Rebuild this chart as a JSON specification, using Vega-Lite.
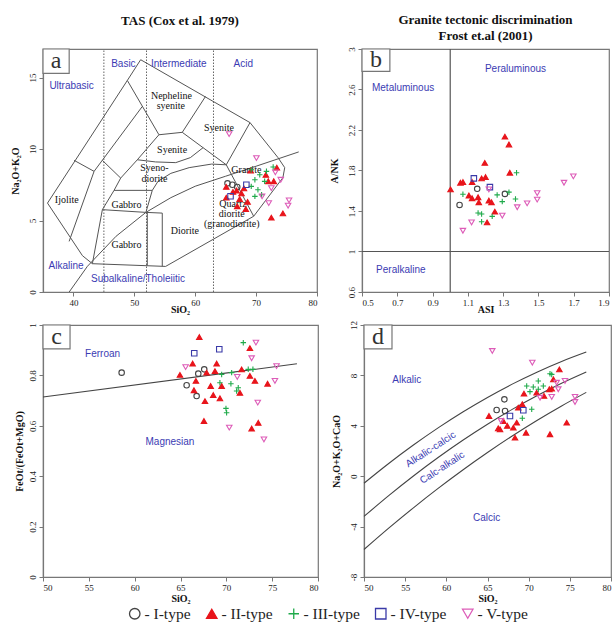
{
"$schema": "https://vega.github.io/schema/vega-lite/v6.json",
"padding": {"left": 9, "top": 13, "right": 0, "bottom": 2},
"config": {
 "view": {"stroke": "#777", "strokeWidth": 1.2},
 "font": "Liberation Serif",
 "axis": {"labelFont": "Liberation Serif", "labelFontSize": 9, "labelColor": "#222", "titleFont": "Liberation Serif", "titleFontSize": 10, "titleFontWeight": "bold", "titleColor": "#111", "domainColor": "#777", "domainWidth": 1.2, "tickColor": "#777", "tickSize": 4, "grid": false, "labelPadding": 2, "labelOverlap": false, "labelExpr": "'' + datum.value", "tickCount": 12},
 "axisX": {"titlePadding": -3},
 "axisY": {"labelAngle": -90, "titlePadding": 8},
 "title": {"font": "Liberation Serif", "fontSize": 13, "fontWeight": "bold", "color": "#111", "lineHeight": 16, "anchor": "middle", "offset": 0},
 "legend": {"orient": "none", "legendX": 84, "legendY": 557, "direction": "horizontal", "columns": 5, "gridAlign": "none", "labelFont": "Liberation Serif", "labelFontSize": 15.5, "labelColor": "#222", "symbolSize": 110, "symbolStrokeWidth": 1.3, "columnPadding": 12, "labelOffset": 2}
},
"datasets": {
 "pts": [
  {"p":"a","t":"I-type","x":65.3,"y":7.6},{"p":"a","t":"I-type","x":66.1,"y":7.5},{"p":"a","t":"I-type","x":66.9,"y":7.35},
  {"p":"a","t":"II-type","x":73.4,"y":8.7},{"p":"a","t":"II-type","x":69.1,"y":8.5},{"p":"a","t":"II-type","x":72.0,"y":7.75},{"p":"a","t":"II-type","x":72.9,"y":7.75},{"p":"a","t":"II-type","x":65.1,"y":7.35},{"p":"a","t":"II-type","x":68.0,"y":7.25},{"p":"a","t":"II-type","x":66.8,"y":7.1},{"p":"a","t":"II-type","x":67.6,"y":6.9},{"p":"a","t":"II-type","x":65.1,"y":6.6},{"p":"a","t":"II-type","x":67.3,"y":6.5},{"p":"a","t":"II-type","x":66.9,"y":6.0},{"p":"a","t":"II-type","x":68.3,"y":5.8},{"p":"a","t":"II-type","x":72.5,"y":5.2},{"p":"a","t":"II-type","x":74.4,"y":5.5},{"p":"a","t":"II-type","x":66.2,"y":7.0},{"p":"a","t":"II-type","x":68.6,"y":6.3},{"p":"a","t":"II-type","x":71.6,"y":8.2},
  {"p":"a","t":"III-type","x":69.2,"y":8.55},{"p":"a","t":"III-type","x":70.6,"y":8.2},{"p":"a","t":"III-type","x":71.7,"y":8.44},{"p":"a","t":"III-type","x":72.8,"y":8.74},{"p":"a","t":"III-type","x":69.8,"y":7.85},{"p":"a","t":"III-type","x":71.4,"y":7.74},{"p":"a","t":"III-type","x":69.2,"y":7.39},{"p":"a","t":"III-type","x":70.3,"y":7.15},{"p":"a","t":"III-type","x":69.8,"y":6.69},{"p":"a","t":"III-type","x":70.9,"y":6.8},
  {"p":"a","t":"IV-type","x":68.4,"y":7.5},{"p":"a","t":"IV-type","x":65.8,"y":6.7},
  {"p":"a","t":"V-type","x":70.05,"y":9.37},{"p":"a","t":"V-type","x":73.16,"y":8.37},{"p":"a","t":"V-type","x":74.05,"y":7.85},{"p":"a","t":"V-type","x":72.5,"y":7.27},{"p":"a","t":"V-type","x":70.98,"y":6.69},{"p":"a","t":"V-type","x":72.08,"y":6.22},{"p":"a","t":"V-type","x":75.41,"y":6.41},{"p":"a","t":"V-type","x":75.25,"y":6.04},{"p":"a","t":"V-type","x":65.57,"y":11.05},
  {"p":"b","t":"I-type","x":1.153,"y":1.619},{"p":"b","t":"I-type","x":1.053,"y":1.46},{"p":"b","t":"I-type","x":1.31,"y":1.569},
  {"p":"b","t":"II-type","x":1.31,"y":2.134},{"p":"b","t":"II-type","x":1.333,"y":2.057},{"p":"b","t":"II-type","x":1.196,"y":1.875},{"p":"b","t":"II-type","x":1.338,"y":1.778},{"p":"b","t":"II-type","x":1.178,"y":1.722},{"p":"b","t":"II-type","x":1.2,"y":1.735},{"p":"b","t":"II-type","x":1.124,"y":1.686},{"p":"b","t":"II-type","x":1.058,"y":1.679},{"p":"b","t":"II-type","x":1.072,"y":1.686},{"p":"b","t":"II-type","x":1.002,"y":1.613},{"p":"b","t":"II-type","x":1.106,"y":1.553},{"p":"b","t":"II-type","x":1.124,"y":1.526},{"p":"b","t":"II-type","x":1.158,"y":1.536},{"p":"b","t":"II-type","x":1.162,"y":1.486},{"p":"b","t":"II-type","x":1.219,"y":1.503},{"p":"b","t":"II-type","x":1.234,"y":1.486},{"p":"b","t":"II-type","x":1.253,"y":1.394},{"p":"b","t":"II-type","x":1.209,"y":1.287},
  {"p":"b","t":"III-type","x":1.376,"y":1.778},{"p":"b","t":"III-type","x":1.072,"y":1.566},{"p":"b","t":"III-type","x":1.266,"y":1.559},{"p":"b","t":"III-type","x":1.333,"y":1.586},{"p":"b","t":"III-type","x":1.37,"y":1.519},{"p":"b","t":"III-type","x":1.295,"y":1.493},{"p":"b","t":"III-type","x":1.158,"y":1.38},{"p":"b","t":"III-type","x":1.178,"y":1.37},{"p":"b","t":"III-type","x":1.178,"y":1.294},{"p":"b","t":"III-type","x":1.238,"y":1.347},
  {"p":"b","t":"IV-type","x":1.134,"y":1.722},{"p":"b","t":"IV-type","x":1.225,"y":1.636},
  {"p":"b","t":"V-type","x":1.219,"y":1.613},{"p":"b","t":"V-type","x":1.698,"y":1.742},{"p":"b","t":"V-type","x":1.645,"y":1.679},{"p":"b","t":"V-type","x":1.493,"y":1.576},{"p":"b","t":"V-type","x":1.493,"y":1.513},{"p":"b","t":"V-type","x":1.436,"y":1.476},{"p":"b","t":"V-type","x":1.38,"y":1.437},{"p":"b","t":"V-type","x":1.295,"y":1.354},{"p":"b","t":"V-type","x":1.121,"y":1.287},{"p":"b","t":"V-type","x":1.072,"y":1.205},
  {"p":"c","t":"I-type","x":58.58,"y":0.811},{"p":"c","t":"I-type","x":65.67,"y":0.761},{"p":"c","t":"I-type","x":66.76,"y":0.718},{"p":"c","t":"I-type","x":66.94,"y":0.807},{"p":"c","t":"I-type","x":67.59,"y":0.824},
  {"p":"c","t":"II-type","x":67.05,"y":0.952},{"p":"c","t":"II-type","x":72.57,"y":0.908},{"p":"c","t":"II-type","x":66.32,"y":0.847},{"p":"c","t":"II-type","x":68.94,"y":0.847},{"p":"c","t":"II-type","x":64.94,"y":0.802},{"p":"c","t":"II-type","x":67.85,"y":0.811},{"p":"c","t":"II-type","x":68.76,"y":0.817},{"p":"c","t":"II-type","x":71.67,"y":0.824},{"p":"c","t":"II-type","x":72.57,"y":0.798},{"p":"c","t":"II-type","x":66.68,"y":0.778},{"p":"c","t":"II-type","x":68.29,"y":0.758},{"p":"c","t":"II-type","x":69.49,"y":0.758},{"p":"c","t":"II-type","x":73.12,"y":0.778},{"p":"c","t":"II-type","x":74.5,"y":0.767},{"p":"c","t":"II-type","x":66.47,"y":0.741},{"p":"c","t":"II-type","x":68.57,"y":0.722},{"p":"c","t":"II-type","x":69.3,"y":0.709},{"p":"c","t":"II-type","x":67.67,"y":0.698},{"p":"c","t":"II-type","x":71.48,"y":0.731},{"p":"c","t":"II-type","x":67.56,"y":0.619},{"p":"c","t":"II-type","x":72.76,"y":0.589},{"p":"c","t":"II-type","x":73.48,"y":0.612},
  {"p":"c","t":"III-type","x":71.85,"y":0.93},{"p":"c","t":"III-type","x":69.49,"y":0.804},{"p":"c","t":"III-type","x":70.58,"y":0.811},{"p":"c","t":"III-type","x":72.39,"y":0.824},{"p":"c","t":"III-type","x":69.3,"y":0.771},{"p":"c","t":"III-type","x":70.5,"y":0.767},{"p":"c","t":"III-type","x":71.3,"y":0.751},{"p":"c","t":"III-type","x":71.12,"y":0.738},{"p":"c","t":"III-type","x":69.96,"y":0.669},{"p":"c","t":"III-type","x":70.03,"y":0.652},{"p":"c","t":"III-type","x":72.9,"y":0.824},
  {"p":"c","t":"IV-type","x":66.5,"y":0.888},{"p":"c","t":"IV-type","x":69.23,"y":0.904},
  {"p":"c","t":"V-type","x":73.23,"y":0.93},{"p":"c","t":"V-type","x":72.76,"y":0.868},{"p":"c","t":"V-type","x":65.56,"y":0.833},{"p":"c","t":"V-type","x":75.48,"y":0.837},{"p":"c","t":"V-type","x":75.3,"y":0.778},{"p":"c","t":"V-type","x":71.19,"y":0.794},{"p":"c","t":"V-type","x":73.43,"y":0.692},{"p":"c","t":"V-type","x":70.32,"y":0.593},{"p":"c","t":"V-type","x":74.1,"y":0.546},
  {"p":"d","t":"I-type","x":67.05,"y":6.1},{"p":"d","t":"I-type","x":66.11,"y":5.25},{"p":"d","t":"I-type","x":67.13,"y":5.17},
  {"p":"d","t":"II-type","x":73.73,"y":8.48},{"p":"d","t":"II-type","x":73.0,"y":7.69},{"p":"d","t":"II-type","x":72.51,"y":6.9},{"p":"d","t":"II-type","x":72.8,"y":6.95},{"p":"d","t":"II-type","x":71.86,"y":6.37},{"p":"d","t":"II-type","x":70.97,"y":6.63},{"p":"d","t":"II-type","x":69.43,"y":6.55},{"p":"d","t":"II-type","x":69.23,"y":5.71},{"p":"d","t":"II-type","x":68.74,"y":5.44},{"p":"d","t":"II-type","x":65.18,"y":4.78},{"p":"d","t":"II-type","x":66.92,"y":4.38},{"p":"d","t":"II-type","x":66.52,"y":3.72},{"p":"d","t":"II-type","x":66.3,"y":3.8},{"p":"d","t":"II-type","x":68.14,"y":3.85},{"p":"d","t":"II-type","x":68.55,"y":4.25},{"p":"d","t":"II-type","x":69.68,"y":3.45},{"p":"d","t":"II-type","x":68.34,"y":3.06},{"p":"d","t":"II-type","x":72.59,"y":3.33},{"p":"d","t":"II-type","x":74.62,"y":4.25},{"p":"d","t":"II-type","x":67.4,"y":4.0},
  {"p":"d","t":"III-type","x":72.59,"y":8.13},{"p":"d","t":"III-type","x":72.8,"y":8.08},{"p":"d","t":"III-type","x":69.76,"y":7.16},{"p":"d","t":"III-type","x":70.56,"y":7.08},{"p":"d","t":"III-type","x":71.17,"y":7.56},{"p":"d","t":"III-type","x":71.78,"y":7.16},{"p":"d","t":"III-type","x":70.16,"y":6.71},{"p":"d","t":"III-type","x":71.17,"y":6.9},{"p":"d","t":"III-type","x":70.37,"y":5.31},{"p":"d","t":"III-type","x":69.23,"y":4.6},
  {"p":"d","t":"IV-type","x":67.73,"y":4.78},{"p":"d","t":"IV-type","x":69.35,"y":5.23},
  {"p":"d","t":"V-type","x":65.58,"y":9.94},{"p":"d","t":"V-type","x":70.44,"y":9.01},{"p":"d","t":"V-type","x":74.41,"y":7.56},{"p":"d","t":"V-type","x":73.4,"y":7.42},{"p":"d","t":"V-type","x":73.6,"y":6.9},{"p":"d","t":"V-type","x":72.8,"y":6.29},{"p":"d","t":"V-type","x":71.38,"y":6.23},{"p":"d","t":"V-type","x":75.63,"y":6.29},{"p":"d","t":"V-type","x":75.63,"y":5.89},{"p":"d","t":"V-type","x":66.64,"y":4.38}
 ],
 "tas": [
  {"s":"outer","o":0,"x":35.74,"y":6.22},{"s":"outer","o":1,"x":48.85,"y":14.8},{"s":"outer","o":2,"x":51.04,"y":16.25},{"s":"outer","o":3,"x":69.0,"y":11.85},{"s":"outer","o":4,"x":73.6,"y":9.4},{"s":"outer","o":5,"x":74.7,"y":8.7},{"s":"outer","o":6,"x":74.4,"y":8.0},{"s":"outer","o":7,"x":69.6,"y":5.3},{"s":"outer","o":8,"x":55.14,"y":1.79},{"s":"outer","o":9,"x":43.11,"y":1.98},{"s":"outer","o":10,"x":41.48,"y":2.54},{"s":"outer","o":11,"x":35.74,"y":6.22},
  {"s":"alk","o":0,"x":39.3,"y":0},{"s":"alk","o":1,"x":42.3,"y":1.8},{"s":"alk","o":2,"x":47,"y":3.9},{"s":"alk","o":3,"x":51.9,"y":5.57},{"s":"alk","o":4,"x":56,"y":6.6},{"s":"alk","o":5,"x":60,"y":7.4},{"s":"alk","o":6,"x":65,"y":8.1},{"s":"alk","o":7,"x":70,"y":8.8},{"s":"alk","o":8,"x":77,"y":9.8},
  {"s":"IJT","o":0,"x":40.11,"y":9.21},{"s":"IJT","o":1,"x":43.39,"y":8.44},
  {"s":"IJR","o":0,"x":43.39,"y":8.44},{"s":"IJR","o":1,"x":39.29,"y":3.54},
  {"s":"S1R","o":0,"x":43.39,"y":8.44},{"s":"S1R","o":1,"x":51.31,"y":12.98},
  {"s":"SH","o":0,"x":44.75,"y":9.21},{"s":"SH","o":1,"x":47.76,"y":7.97},
  {"s":"S2L","o":0,"x":47.76,"y":7.97},{"s":"S2L","o":1,"x":46.67,"y":7.11},{"s":"S2L","o":2,"x":44.75,"y":5.76},{"s":"S2L","o":3,"x":43.11,"y":1.98},
  {"s":"S2U","o":0,"x":47.76,"y":7.97},{"s":"S2U","o":1,"x":50.49,"y":9.25},{"s":"S2U","o":2,"x":54.04,"y":11.0},
  {"s":"NS","o":0,"x":48.85,"y":14.8},{"s":"NS","o":1,"x":54.04,"y":11.0},{"s":"NS","o":2,"x":57.87,"y":11.17},{"s":"NS","o":3,"x":61.69,"y":13.68},
  {"s":"SYUB","o":0,"x":57.87,"y":11.17},{"s":"SYUB","o":1,"x":65.1,"y":8.9},{"s":"SYUB","o":2,"x":69.0,"y":11.85},
  {"s":"GR","o":0,"x":65.1,"y":8.9},{"s":"GR","o":1,"x":69.6,"y":5.3},
  {"s":"A2","o":0,"x":50.49,"y":9.25},{"s":"A2","o":1,"x":53.5,"y":9.1},{"s":"A2","o":2,"x":56.8,"y":9.05},{"s":"A2","o":3,"x":59.2,"y":9.4},{"s":"A2","o":4,"x":61.3,"y":10.1},
  {"s":"A1","o":0,"x":46.67,"y":7.11},{"s":"A1","o":1,"x":52.95,"y":7.11},{"s":"A1","o":2,"x":53.9,"y":7.75},{"s":"A1","o":3,"x":56,"y":8.3},{"s":"A1","o":4,"x":59,"y":8.7},{"s":"A1","o":5,"x":62.7,"y":8.95},{"s":"A1","o":6,"x":65.1,"y":8.9},
  {"s":"GUR","o":0,"x":52.95,"y":7.11},{"s":"GUR","o":1,"x":51.9,"y":5.57},
  {"s":"H0","o":0,"x":44.75,"y":5.76},{"s":"H0","o":1,"x":51.9,"y":5.57},{"s":"H0","o":2,"x":54.59,"y":5.52},
  {"s":"V1","o":0,"x":52.13,"y":5.57},{"s":"V1","o":1,"x":52.13,"y":1.85},
  {"s":"V2","o":0,"x":54.59,"y":5.52},{"s":"V2","o":1,"x":54.59,"y":1.8}
 ]
},
"vconcat": [
 {"hconcat": [
  {"width": 274, "height": 243,
   "title": {"text": ["TAS (Cox et al. 1979)", " "]},
   "layer": [
    {"data": {"values": [{"x": 35, "x2": 39.3, "y": 17, "y2": 15.3}]}, "mark": {"type": "rect", "fill": "white", "stroke": "#777", "strokeWidth": 1.2},
     "encoding": {"x": {"field": "x", "type": "quantitative", "scale": {"domain": [35, 80], "nice": false, "zero": false}, "axis": {"values": [40, 50, 60, 70, 80], "title": "SiO₂"}}, "x2": {"field": "x2"}, "y": {"field": "y", "type": "quantitative", "scale": {"domain": [0, 17], "nice": false, "zero": false}, "axis": {"values": [0, 5, 10, 15], "title": "Na₂O+K₂O"}}, "y2": {"field": "y2"}}},
    {"data": {"values": [{"x": 37.15, "y": 16.15, "l": "a"}]}, "mark": {"type": "text", "font": "Liberation Serif", "fontSize": 24, "color": "#333", "baseline": "middle"}, "encoding": {"x": {"field": "x", "type": "quantitative"}, "y": {"field": "y", "type": "quantitative"}, "text": {"field": "l"}}},
    {"data": {"values": [{"x": 45, "y": 0, "y2": 17}, {"x": 52, "y": 0, "y2": 17}, {"x": 63, "y": 0, "y2": 17}]}, "mark": {"type": "rule", "stroke": "#666", "strokeDash": [1.5, 1.5], "strokeWidth": 1},
     "encoding": {"x": {"field": "x", "type": "quantitative"}, "y": {"field": "y", "type": "quantitative"}, "y2": {"field": "y2"}}},
    {"data": {"name": "tas"}, "mark": {"type": "line", "stroke": "#555", "strokeWidth": 1, "interpolate": "linear"},
     "encoding": {"x": {"field": "x", "type": "quantitative"}, "y": {"field": "y", "type": "quantitative"}, "detail": {"field": "s"}, "order": {"field": "o"}}},
    {"data": {"values": [{"x": 39.7, "y": 14.4, "l": "Ultrabasic"}, {"x": 48.2, "y": 15.95, "l": "Basic"}, {"x": 57.3, "y": 15.95, "l": "Intermediate"}, {"x": 67.9, "y": 15.95, "l": "Acid"}, {"x": 38.8, "y": 1.84, "l": "Alkaline"}, {"x": 50.6, "y": 0.9, "l": "Subalkaline/Tholeiitic"}]},
     "mark": {"type": "text", "font": "Liberation Sans", "fontSize": 10, "color": "#3b3bb3"}, "encoding": {"x": {"field": "x", "type": "quantitative"}, "y": {"field": "y", "type": "quantitative"}, "text": {"field": "l"}}},
    {"data": {"values": [{"x": 56.1, "y": 13.68, "l": "Nepheline"}, {"x": 56.0, "y": 12.98, "l": "syenite"}, {"x": 63.9, "y": 11.45, "l": "Syenite"}, {"x": 56.2, "y": 9.9, "l": "Syenite"}, {"x": 53.3, "y": 8.7, "l": "Syeno-"}, {"x": 53.3, "y": 7.92, "l": "diorite"}, {"x": 48.7, "y": 6.1, "l": "Gabbro"}, {"x": 48.7, "y": 3.3, "l": "Gabbro"}, {"x": 58.3, "y": 4.24, "l": "Diorite"}, {"x": 38.9, "y": 6.41, "l": "Ijolite"}, {"x": 68.4, "y": 8.55, "l": "Granite"}, {"x": 66.2, "y": 6.15, "l": "Quartz"}, {"x": 66.0, "y": 5.45, "l": "diorite"}, {"x": 66.0, "y": 4.75, "l": "(granodiorite)"}]},
     "mark": {"type": "text", "font": "Liberation Serif", "fontSize": 10, "color": "#111"}, "encoding": {"x": {"field": "x", "type": "quantitative"}, "y": {"field": "y", "type": "quantitative"}, "text": {"field": "l"}}},
    {"data": {"name": "pts"}, "transform": [{"filter": "datum.p == 'a'"}], "mark": {"type": "point", "size": 30, "strokeWidth": 1.1, "opacity": 1},
     "encoding": {"x": {"field": "x", "type": "quantitative"}, "y": {"field": "y", "type": "quantitative"},
      "shape": {"field": "t", "type": "nominal", "title": null, "legend": {"labelExpr": "'- ' + datum.label"}, "scale": {"domain": ["I-type", "II-type", "III-type", "IV-type", "V-type"], "range": ["circle", "triangle-up", "M-1,0H1M0,-1V1", "square", "triangle-down"]}},
      "stroke": {"field": "t", "type": "nominal", "title": null, "legend": {"labelExpr": "'- ' + datum.label"}, "scale": {"domain": ["I-type", "II-type", "III-type", "IV-type", "V-type"], "range": ["#444444", "#e8141b", "#1faa4a", "#3a3aa8", "#dd5cb8"]}},
      "fill": {"field": "t", "type": "nominal", "title": null, "legend": {"labelExpr": "'- ' + datum.label"}, "scale": {"domain": ["I-type", "II-type", "III-type", "IV-type", "V-type"], "range": ["transparent", "#e8141b", "transparent", "transparent", "transparent"]}}}}
   ]},
  {"width": 247, "height": 243,
   "title": {"text": ["Granite tectonic discrimination", "Frost et.al (2001)"]},
   "layer": [
    {"data": {"values": [{"x": 0.5, "x2": 1.9, "y": 1.0}]}, "mark": {"type": "rule", "stroke": "#555", "strokeWidth": 1.2},
     "encoding": {"x": {"field": "x", "type": "quantitative", "scale": {"domain": [0.5, 1.9], "nice": false, "zero": false}, "axis": {"values": [0.5, 0.7, 0.9, 1.1, 1.3, 1.5, 1.7, 1.9], "tickCount": 12, "labelExpr": "format(datum.value, '.1f')", "title": "ASI"}}, "x2": {"field": "x2"}, "y": {"field": "y", "type": "quantitative", "scale": {"domain": [0.6, 3.0], "nice": false, "zero": false}, "axis": {"values": [0.6, 1.0, 1.4, 1.8, 2.2, 2.6, 3.0], "title": "A/NK"}}}},
    {"data": {"values": [{"x": 1.0, "y": 0.6, "y2": 3.0}]}, "mark": {"type": "rule", "stroke": "#555", "strokeWidth": 1.2},
     "encoding": {"x": {"field": "x", "type": "quantitative"}, "y": {"field": "y", "type": "quantitative"}, "y2": {"field": "y2"}}},
    {"data": {"values": [{"x": 0.5, "x2": 0.658, "y": 3.0, "y2": 2.78}]}, "mark": {"type": "rect", "fill": "white", "stroke": "#777", "strokeWidth": 1.2},
     "encoding": {"x": {"field": "x", "type": "quantitative"}, "x2": {"field": "x2"}, "y": {"field": "y", "type": "quantitative"}, "y2": {"field": "y2"}}},
    {"data": {"values": [{"x": 0.579, "y": 2.89, "l": "b"}]}, "mark": {"type": "text", "font": "Liberation Serif", "fontSize": 24, "color": "#333", "baseline": "middle"}, "encoding": {"x": {"field": "x", "type": "quantitative"}, "y": {"field": "y", "type": "quantitative"}, "text": {"field": "l"}}},
    {"data": {"values": [{"x": 0.733, "y": 2.61, "l": "Metaluminous"}, {"x": 1.37, "y": 2.8, "l": "Peraluminous"}, {"x": 0.72, "y": 0.82, "l": "Peralkaline"}]},
     "mark": {"type": "text", "font": "Liberation Sans", "fontSize": 10, "color": "#3b3bb3"}, "encoding": {"x": {"field": "x", "type": "quantitative"}, "y": {"field": "y", "type": "quantitative"}, "text": {"field": "l"}}},
    {"data": {"name": "pts"}, "transform": [{"filter": "datum.p == 'b'"}], "mark": {"type": "point", "size": 30, "strokeWidth": 1.1, "opacity": 1},
     "encoding": {"x": {"field": "x", "type": "quantitative"}, "y": {"field": "y", "type": "quantitative"},
      "shape": {"field": "t", "type": "nominal", "title": null}, "stroke": {"field": "t", "type": "nominal", "title": null}, "fill": {"field": "t", "type": "nominal", "title": null}}}
   ]}
 ], "spacing": 45, "bounds": "flush"},
 {"hconcat": [
  {"width": 275, "height": 252,
   "layer": [
    {"data": {"values": [{"x": 50, "y": 0.714, "x2": 77.7, "y2": 0.846}]}, "mark": {"type": "rule", "stroke": "#444", "strokeWidth": 1.1},
     "encoding": {"x": {"field": "x", "type": "quantitative", "scale": {"domain": [50, 80], "nice": false, "zero": false}, "axis": {"values": [50, 55, 60, 65, 70, 75, 80], "title": "SiO₂", "titlePadding": 1}}, "x2": {"field": "x2"}, "y": {"field": "y", "type": "quantitative", "scale": {"domain": [0, 1], "nice": false, "zero": false}, "axis": {"values": [0, 0.2, 0.4, 0.6, 0.8, 1.0], "title": "FeOt/(FeOt+MgO)", "titlePadding": 4}}, "y2": {"field": "y2"}}},
    {"data": {"values": [{"x": 50, "x2": 52.95, "y": 1.0, "y2": 0.905}]}, "mark": {"type": "rect", "fill": "white", "stroke": "#777", "strokeWidth": 1.2},
     "encoding": {"x": {"field": "x", "type": "quantitative"}, "x2": {"field": "x2"}, "y": {"field": "y", "type": "quantitative"}, "y2": {"field": "y2"}}},
    {"data": {"values": [{"x": 51.47, "y": 0.952, "l": "c"}]}, "mark": {"type": "text", "font": "Liberation Serif", "fontSize": 24, "color": "#333", "baseline": "middle"}, "encoding": {"x": {"field": "x", "type": "quantitative"}, "y": {"field": "y", "type": "quantitative"}, "text": {"field": "l"}}},
    {"data": {"values": [{"x": 56.5, "y": 0.885, "l": "Ferroan"}, {"x": 63.85, "y": 0.536, "l": "Magnesian"}]},
     "mark": {"type": "text", "font": "Liberation Sans", "fontSize": 10, "color": "#3b3bb3"}, "encoding": {"x": {"field": "x", "type": "quantitative"}, "y": {"field": "y", "type": "quantitative"}, "text": {"field": "l"}}},
    {"data": {"name": "pts"}, "transform": [{"filter": "datum.p == 'c'"}], "mark": {"type": "point", "size": 30, "strokeWidth": 1.1, "opacity": 1},
     "encoding": {"x": {"field": "x", "type": "quantitative"}, "y": {"field": "y", "type": "quantitative"},
      "shape": {"field": "t", "type": "nominal", "title": null}, "stroke": {"field": "t", "type": "nominal", "title": null}, "fill": {"field": "t", "type": "nominal", "title": null}}}
   ]},
  {"width": 247, "height": 252,
   "layer": [
    {"data": {"values": [
      {"s":1,"x":50,"y":-0.56},{"s":1,"x":53,"y":1.009},{"s":1,"x":56,"y":2.474},{"s":1,"x":59,"y":3.837},{"s":1,"x":62,"y":5.096},{"s":1,"x":65,"y":6.253},{"s":1,"x":68,"y":7.307},{"s":1,"x":71,"y":8.257},{"s":1,"x":74,"y":9.105},{"s":1,"x":77,"y":9.85},
      {"s":2,"x":50,"y":-3.195},{"s":2,"x":53,"y":-1.541},{"s":2,"x":56,"y":0.017},{"s":2,"x":59,"y":1.481},{"s":2,"x":62,"y":2.85},{"s":2,"x":65,"y":4.124},{"s":2,"x":68,"y":5.304},{"s":2,"x":71,"y":6.388},{"s":2,"x":74,"y":7.377},{"s":2,"x":77,"y":8.272},
      {"s":3,"x":50,"y":-5.82},{"s":3,"x":53,"y":-4.126},{"s":3,"x":56,"y":-2.51},{"s":3,"x":59,"y":-0.97},{"s":3,"x":62,"y":0.493},{"s":3,"x":65,"y":1.879},{"s":3,"x":68,"y":3.188},{"s":3,"x":71,"y":4.42},{"s":3,"x":74,"y":5.575},{"s":3,"x":77,"y":6.654}]},
     "mark": {"type": "line", "stroke": "#444", "strokeWidth": 1.1, "interpolate": "monotone"},
     "encoding": {"x": {"field": "x", "type": "quantitative", "scale": {"domain": [50, 80], "nice": false, "zero": false}, "axis": {"values": [50, 55, 60, 65, 70, 75, 80], "title": "SiO₂", "titlePadding": 1}}, "y": {"field": "y", "type": "quantitative", "scale": {"domain": [-8, 12], "nice": false, "zero": false}, "axis": {"values": [-8, -4, 0, 4, 8, 12], "title": "Na₂O+K₂O+CaO"}}, "detail": {"field": "s"}}},
    {"data": {"values": [{"x": 50, "x2": 53.4, "y": 12, "y2": 10.1}]}, "mark": {"type": "rect", "fill": "white", "stroke": "#777", "strokeWidth": 1.2},
     "encoding": {"x": {"field": "x", "type": "quantitative"}, "x2": {"field": "x2"}, "y": {"field": "y", "type": "quantitative"}, "y2": {"field": "y2"}}},
    {"data": {"values": [{"x": 51.7, "y": 11.05, "l": "d"}]}, "mark": {"type": "text", "font": "Liberation Serif", "fontSize": 24, "color": "#333", "baseline": "middle"}, "encoding": {"x": {"field": "x", "type": "quantitative"}, "y": {"field": "y", "type": "quantitative"}, "text": {"field": "l"}}},
    {"data": {"values": [{"x": 55.2, "y": 7.6, "l": "Alkalic"}, {"x": 64.9, "y": -3.3, "l": "Calcic"}]},
     "mark": {"type": "text", "font": "Liberation Sans", "fontSize": 10, "color": "#3b3bb3"}, "encoding": {"x": {"field": "x", "type": "quantitative"}, "y": {"field": "y", "type": "quantitative"}, "text": {"field": "l"}}},
    {"data": {"values": [{"x": 58.1, "y": 2.13, "l": "Alkalic-calcic"}, {"x": 59.5, "y": 0.68, "l": "Calc-alkalic"}]},
     "mark": {"type": "text", "font": "Liberation Sans", "fontSize": 10, "color": "#3b3bb3", "angle": -33}, "encoding": {"x": {"field": "x", "type": "quantitative"}, "y": {"field": "y", "type": "quantitative"}, "text": {"field": "l"}}},
    {"data": {"name": "pts"}, "transform": [{"filter": "datum.p == 'd'"}], "mark": {"type": "point", "size": 30, "strokeWidth": 1.1, "opacity": 1},
     "encoding": {"x": {"field": "x", "type": "quantitative"}, "y": {"field": "y", "type": "quantitative"},
      "shape": {"field": "t", "type": "nominal", "title": null}, "stroke": {"field": "t", "type": "nominal", "title": null}, "fill": {"field": "t", "type": "nominal", "title": null}}}
   ]}
 ], "spacing": 46, "bounds": "flush"}
],
"spacing": 4,
"resolve": {"scale": {"shape": "shared", "stroke": "shared", "fill": "shared"}}
}
